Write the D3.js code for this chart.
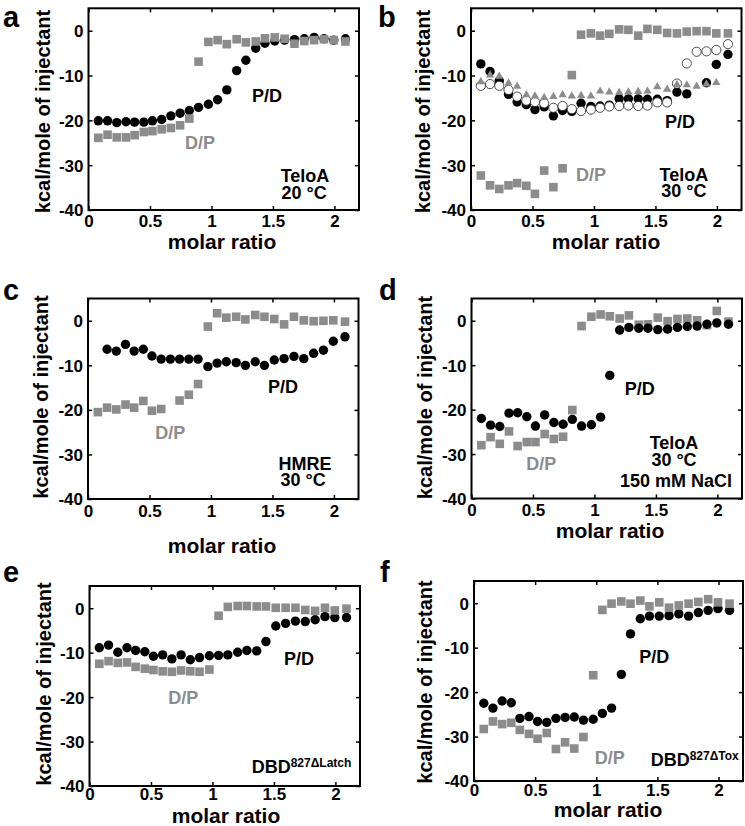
<!DOCTYPE html>
<html>
<head>
<meta charset="utf-8">
<script src="https://cdn.jsdelivr.net/npm/d3@7"></script>
<style>
  html, body { margin: 0; padding: 0; background: #fff; }
  svg { display: block; font-family: "Liberation Sans", Arial, Helvetica, sans-serif; font-weight: bold; }
</style>
</head>
<body>
<svg id="chart" width="745" height="826"></svg>
<script>
// ---------- DATA ----------
const molarRatio = [0.08,0.155,0.23,0.305,0.375,0.45,0.52,0.595,0.67,0.745,0.82,0.895,0.975,1.05,1.125,1.205,1.28,1.36,1.435,1.515,1.595,1.675,1.755,1.835,1.915,1.995,2.09];

const xTicks = [0, 0.5, 1, 1.5, 2];
const xTickLabels = ["0", "0.5", "1", "1.5", "2"];
const yTicks = [0, -10, -20, -30, -40];
const yTickLabels = ["0", "-10", "-20", "-30", "-40"];

// Panel a: TeloA 20 °C
const aPD = [-20.1,-20.1,-20.5,-20.3,-20.4,-20.4,-20.1,-19.8,-19.0,-18.4,-17.8,-17.1,-16.4,-15.4,-13.2,-8.9,-6.6,-3.9,-2.8,-2.3,-2.1,-2.0,-1.8,-1.5,-1.8,-2.1,-1.8];
const aDP = [-23.9,-23.2,-23.8,-23.8,-23.3,-22.6,-22.4,-22.0,-21.7,-21.1,-19.6,-6.9,-2.5,-2.1,-3.0,-1.9,-2.6,-2.4,-1.7,-1.5,-1.8,-2.9,-2.3,-2.1,-1.9,-2.1,-2.4];

// Panel b: TeloA 30 °C
const bPD = [-7.4,-9.1,-11.2,-14.2,-15.9,-16.5,-17.6,-17.0,-19.0,-17.8,-18.0,-16.2,-16.9,-16.8,-16.6,-15.2,-15.2,-15.2,-15.3,-15.3,-15.6,-13.7,-14.1,null,-11.6,-7.5,-5.3];
const bPDopen = [-12.3,-11.9,-12.3,-13.2,-14.7,-15.6,-15.9,-16.2,-17.2,-16.8,-17.5,-17.9,-17.6,-17.2,-16.9,-16.8,-16.7,-16.8,-16.7,-16.0,-16.0,-11.8,-7.3,-4.7,-4.6,-4.3,-3.0];
const bPDtri = [-11.4,-9.9,-10.2,-11.7,-12.4,-14.3,-14.6,-14.9,-14.7,-14.3,-14.6,-14.5,-14.6,-13.5,-13.7,-13.8,-13.7,-13.6,-13.5,-12.5,-13.1,-12.0,-12.1,-12.4,-11.9,-11.6,null];
const bDP = [-32.3,-34.5,-35.3,-34.5,-34.0,-34.6,-36.4,-31.2,-34.9,-30.7,-9.9,-0.9,-0.6,-1.1,-0.7,0.3,0.2,-1.1,0.4,0.2,-0.5,-0.6,-0.2,-0.1,-0.1,-0.6,-0.6];

// Panel c: HMRE 30 °C
const cPD = [null,-6.4,-6.8,-5.3,-6.8,-6.4,-7.9,-8.6,-8.6,-8.6,-8.6,-8.6,-10.3,-9.5,-9.2,-9.4,-10.0,-9.2,-10.0,-8.8,-8.5,-8.0,-8.5,-7.3,-6.6,-4.6,-3.6];
const cDP = [-20.5,-19.5,-19.9,-18.8,-19.5,-18.0,-20.2,-19.8,null,-17.9,-16.6,-14.2,-1.3,1.7,0.7,0.9,0.3,1.3,0.9,0.4,-0.8,0.9,0.1,-0.1,0.0,0.1,-0.2];

// Panel d: TeloA 30 °C 150 mM NaCl
const dPD = [-22.0,-23.5,-23.8,-20.8,-20.7,-21.6,-23.7,-21.2,-22.9,-23.3,-22.2,-23.7,-23.4,-21.7,-12.3,-2.1,-1.5,-1.7,-1.7,-2.0,-1.9,-1.5,-1.3,-1.2,-0.8,-0.5,-0.8];
const dDP = [-28.0,-26.2,-27.7,-24.9,-28.2,-27.3,-27.3,-25.5,-26.6,-26.1,-20.1,-1.2,0.9,1.4,1.0,0.5,1.2,-0.9,-0.8,0.7,-0.1,0.4,0.5,0.1,-1.0,2.2,-0.2];

// Panel e: DBD827ΔLatch
const ePD = [-8.9,-8.3,-9.9,-8.9,-9.5,-9.8,-10.8,-10.5,-11.4,-10.5,-11.6,-11.1,-10.7,-10.6,-10.5,-9.9,-9.5,-9.6,-7.5,-4.0,-3.4,-2.9,-3.0,-2.6,-1.9,-2.1,-2.1];
const eDP = [-12.5,-11.9,-12.3,-12.2,-13.2,-13.6,-13.9,-14.2,-14.3,-14.0,-14.2,-14.3,-13.8,-1.7,0.3,0.5,0.5,0.4,0.4,0.1,0.1,0.1,-0.4,-0.6,0.1,-0.5,-0.1];

// Panel f: DBD827ΔTox
const fPD = [-22.5,-23.6,-22.0,-22.4,-25.9,-25.5,-26.6,-26.8,-25.9,-25.7,-25.6,-26.3,-26.1,-24.8,-23.6,-16.0,-6.9,-3.5,-2.9,-2.9,-2.8,-2.4,-2.9,-2.1,-1.6,-1.2,-1.6];
const fDP = [-28.3,-26.6,-27.2,-26.9,-28.5,-29.4,-30.5,-29.2,-32.8,-31.3,-32.7,-30.1,-16.2,-1.5,-0.1,0.4,-0.1,0.6,-0.7,0.2,-1.0,-0.5,-0.1,0.3,0.9,0.2,-0.1];

// ---------- STYLE / LAYOUT ----------
const GRAY = "#8c8c8c";
const BLACK = "#000";

const panels = [
  { letter: "a", lx: 3, ly: 27, box: [88.5, 8.3, 359, 210], yt: [50, 111.5], xt: [222, 249], tickOff: 17,
    series: [ {v: aPD, m: "dot"}, {v: aDP, m: "sq"} ],
    notes: [ {t: "P/D", x: 1.452, y: -15.8, c: BLACK}, {t: "D/P", x: 0.907, y: -26.4, c: GRAY},
             {t: "TeloA", x: 1.761, y: -33.7, c: BLACK}, {t: "20 °C", x: 1.753, y: -37.5, c: BLACK} ] },
  { letter: "b", lx: 378, ly: 27, box: [471, 8.3, 741.5, 210], yt: [429.5, 111.5], xt: [606, 249], tickOff: 17,
    series: [ {v: bPD, m: "dot"}, {v: bPDopen, m: "open"}, {v: bPDtri, m: "tri"}, {v: bDP, m: "sq"} ],
    notes: [ {t: "P/D", x: 1.70, y: -21.6, c: BLACK}, {t: "D/P", x: 0.976, y: -33.5, c: GRAY},
             {t: "TeloA", x: 1.732, y: -33.5, c: BLACK}, {t: "30 °C", x: 1.732, y: -37.2, c: BLACK} ] },
  { letter: "c", lx: 3, ly: 300, box: [88, 298.5, 358.5, 499], yt: [48, 397], xt: [222, 553], tickOff: 18,
    series: [ {v: cPD, m: "dot"}, {v: cDP, m: "sq"} ],
    notes: [ {t: "P/D", x: 1.586, y: -16.2, c: BLACK}, {t: "D/P", x: 0.669, y: -26.5, c: GRAY},
             {t: "HMRE", x: 1.765, y: -33.4, c: BLACK}, {t: "30 °C", x: 1.749, y: -37.15, c: BLACK} ] },
  { letter: "d", lx: 379, ly: 300, box: [471.5, 298.5, 742, 498.5], yt: [431.5, 397.5], xt: [610, 538], tickOff: 17,
    series: [ {v: dDP, m: "sq"}, {v: dPD, m: "dot"} ],
    notes: [ {t: "P/D", x: 1.368, y: -16.8, c: BLACK}, {t: "D/P", x: 0.568, y: -33.6, c: GRAY},
             {t: "TeloA", x: 1.647, y: -28.96, c: BLACK}, {t: "30 °C", x: 1.647, y: -32.7, c: BLACK},
             {t: "150 mM NaCl", x: 1.663, y: -37.35, c: BLACK} ] },
  { letter: "e", lx: 3, ly: 582, box: [89.5, 586, 360, 786], yt: [51, 684], xt: [226, 823], tickOff: 14,
    series: [ {v: ePD, m: "dot"}, {v: eDP, m: "sq"} ],
    notes: [ {t: "P/D", x: 1.704, y: -12.76, c: BLACK}, {t: "D/P", x: 0.763, y: -21.53, c: GRAY},
             {t: "DBD", sup: "827\u0394Latch", x: 1.319, y: -36.97, c: BLACK, anchor: "start"} ] },
  { letter: "f", lx: 380, ly: 582, box: [474, 581, 743, 781], yt: [431.5, 682], xt: [608, 817], tickOff: 15,
    series: [ {v: fPD, m: "dot"}, {v: fDP, m: "sq"} ],
    notes: [ {t: "P/D", x: 1.474, y: -13.5, c: BLACK}, {t: "D/P", x: 1.11, y: -36.16, c: GRAY},
             {t: "DBD", sup: "827\u0394Tox", x: 1.445, y: -36.52, c: BLACK, anchor: "start"} ] }
];

const svg = d3.select("#chart");
svg.append("rect").attr("width", 745).attr("height", 826).attr("fill", "#fff");

panels.forEach(p => {
  const [L, T, R, B] = p.box;
  const x = d3.scaleLinear().domain([0, 2.2]).range([L, R]);
  const y = d3.scaleLinear().domain([-40, 5]).range([B, T]);
  const g = svg.append("g");

  // panel letter
  svg.append("text").attr("x", p.lx).attr("y", p.ly).attr("font-size", 29)
    .attr("fill", BLACK).text(p.letter);

  // axes with inward ticks on all four sides
  const ax = [
    d3.axisBottom(x).tickValues(xTicks).tickSize(-4).tickFormat((d, i) => xTickLabels[i]),
    d3.axisTop(x).tickValues(xTicks).tickSize(-4).tickFormat(""),
    d3.axisLeft(y).tickValues(yTicks).tickSize(-4).tickFormat((d, i) => yTickLabels[i]),
    d3.axisRight(y).tickValues(yTicks).tickSize(-4).tickFormat("")
  ];
  const trans = [`translate(0,${B})`, `translate(0,${T})`, `translate(${L},0)`, `translate(${R},0)`];
  ax.forEach((a, i) => {
    const ag = g.append("g").attr("transform", trans[i]).call(a);
    ag.select(".domain").remove();
    ag.selectAll(".tick line").attr("stroke", BLACK).attr("stroke-width", 1.5);
    ag.selectAll(".tick text").attr("font-size", 17).attr("font-weight", "bold")
      .attr("font-family", "Liberation Sans, Arial, sans-serif").attr("fill", BLACK);
    if (i === 0) ag.selectAll(".tick text").attr("y", 0).attr("dy", 0).attr("transform", `translate(0,${p.tickOff})`);
    if (i === 2) ag.selectAll(".tick text").attr("x", -5).attr("dy", "0.35em");
  });

  // frame
  g.append("rect").attr("x", L).attr("y", T).attr("width", R - L).attr("height", B - T)
    .attr("fill", "none").attr("stroke", BLACK).attr("stroke-width", 2);

  // data
  p.series.forEach(s => {
    const pts = s.v.map((v, i) => ({x: molarRatio[i], y: v})).filter(d => d.y !== null);
    const sg = g.append("g");
    if (s.m === "dot") {
      sg.selectAll("circle").data(pts).join("circle")
        .attr("cx", d => x(d.x)).attr("cy", d => y(d.y)).attr("r", 4.7).attr("fill", BLACK);
    } else if (s.m === "open") {
      sg.selectAll("circle").data(pts).join("circle")
        .attr("cx", d => x(d.x)).attr("cy", d => y(d.y)).attr("r", 4.6)
        .attr("fill", "#fff").attr("stroke", "#222").attr("stroke-width", 0.8);
    } else if (s.m === "sq") {
      const sz = 8.6;
      sg.selectAll("rect").data(pts).join("rect")
        .attr("x", d => x(d.x) - sz / 2).attr("y", d => y(d.y) - sz / 2)
        .attr("width", sz).attr("height", sz).attr("fill", GRAY);
    } else if (s.m === "tri") {
      const sym = d3.symbol().type(d3.symbolTriangle).size(30);
      sg.selectAll("path").data(pts).join("path")
        .attr("transform", d => `translate(${x(d.x)},${y(d.y)})`).attr("d", sym).attr("fill", GRAY);
    }
  });

  // annotations
  p.notes.forEach(n => {
    const t = g.append("text").attr("x", x(n.x)).attr("y", y(n.y)).attr("font-size", 18)
      .attr("fill", n.c).attr("text-anchor", n.anchor || "middle").text(n.t);
    if (n.sup) {
      t.append("tspan").attr("font-size", 12).attr("dy", -6).text(n.sup);
    }
  });

  // axis titles
  svg.append("text").attr("transform", `translate(${p.yt[0]},${p.yt[1]}) rotate(-90)`)
    .attr("text-anchor", "middle").attr("font-size", 20).attr("fill", BLACK)
    .text("kcal/mole of injectant");
  svg.append("text").attr("x", p.xt[0]).attr("y", p.xt[1]).attr("text-anchor", "middle")
    .attr("font-size", 21).attr("fill", BLACK).text("molar ratio");
});
</script>
</body>
</html>
